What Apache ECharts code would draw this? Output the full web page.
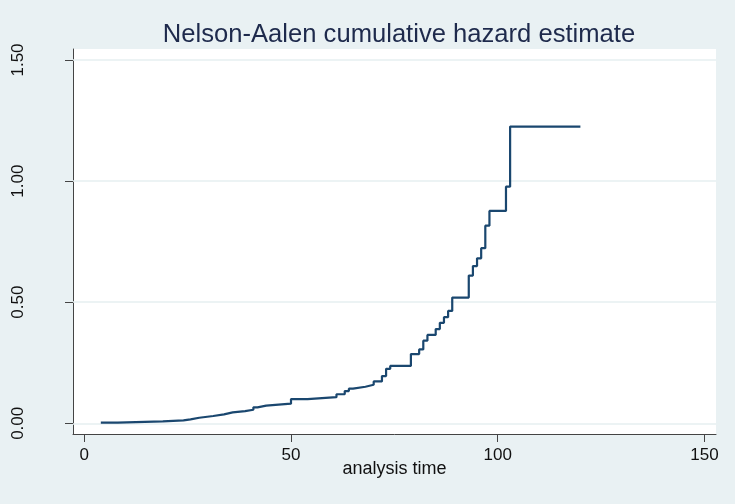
<!DOCTYPE html>
<html><head><meta charset="utf-8">
<script src="https://cdn.jsdelivr.net/npm/echarts@6/dist/echarts.min.js"></script>
<style>html,body{margin:0;padding:0;background:#e9f1f3;}#c{width:735px;height:504px;}</style>
</head><body><div id="c"></div>
<script>
const titleText = "Nelson-Aalen cumulative hazard estimate";
const xName = "analysis time";
const times = [4, 8.1, 19, 24, 25.7, 27.8, 31.2, 33.8, 35.9, 38.9, 40.9, 41.9, 44, 47, 50, 54, 61, 63, 64, 65, 68, 70, 72, 73, 74, 79, 81, 82, 83, 85, 86, 87, 88, 89, 93, 94, 95, 96, 97, 98, 102, 103, 120];
const hazard = [0.0025, 0.008, 0.012, 0.0165, 0.023, 0.030, 0.037, 0.045, 0.050, 0.056, 0.066, 0.073, 0.077, 0.081, 0.100, 0.108, 0.120, 0.133, 0.143, 0.151, 0.159, 0.173, 0.195, 0.225, 0.237, 0.286, 0.305, 0.341, 0.365, 0.389, 0.415, 0.438, 0.464, 0.519, 0.610, 0.649, 0.681, 0.723, 0.816, 0.877, 0.977, 1.225, 1.225];
const xTicks = [0, 50, 100, 150];
const yTicks = [0, 0.5, 1, 1.5];

const FONT = "'Liberation Sans', Arial, Helvetica, sans-serif";
const chart = echarts.init(document.getElementById('c'), null, {renderer: 'canvas'});
chart.setOption({
  backgroundColor: '#e9f1f3',
  animation: false,
  title: {
    text: titleText, left: 394, top: 17, textAlign: 'center',
    textStyle: {fontFamily: FONT, fontSize: 25.6, fontWeight: 'normal', color: '#1e2a4c'}
  },
  grid: {left: 73, right: 19, top: 49, bottom: 70, show: true, backgroundColor: '#ffffff', borderWidth: 0, containLabel: false},
  xAxis: {
    type: 'value', min: -2.73, max: 152.8,
    name: xName, nameLocation: 'middle', nameGap: 26, nameMoveOverlap: false,
    nameTextStyle: {fontFamily: FONT, fontSize: 18, color: '#111'},
    axisLine: {show: true, onZero: false, lineStyle: {color: '#444', width: 1}},
    axisTick: {show: true, length: 8, customValues: xTicks, lineStyle: {color: '#444'}},
    axisLabel: {customValues: xTicks, margin: 13, fontFamily: FONT, fontSize: 17, color: '#111'},
    splitLine: {show: false}
  },
  yAxis: {
    type: 'value', min: -0.0442, max: 1.5454,
    axisLine: {show: true, onZero: false, lineStyle: {color: '#444', width: 1}},
    axisTick: {show: true, length: 8, customValues: yTicks, lineStyle: {color: '#444'}},
    axisLabel: {customValues: yTicks, rotate: 90, margin: 46, fontFamily: FONT, fontSize: 17, color: '#111',
      formatter: v => v.toFixed(2)},
    splitLine: {show: false}
  },
  series: [
    {
      type: 'line', data: [], z: 1, zlevel: 0, silent: true,
      markLine: {silent: true, z: 1, symbol: 'none', label: {show: false},
        lineStyle: {color: '#e6eff1', width: 1.5, type: 'solid'},
        data: yTicks.map(v => ({yAxis: v}))}
    },
    {
      type: 'line', step: 'end', z: 10, showSymbol: false,
      data: times.map((t, i) => [t, hazard[i]]),
      lineStyle: {color: '#1a476f', width: 2.2}
    }
  ]
});
</script></body></html>
